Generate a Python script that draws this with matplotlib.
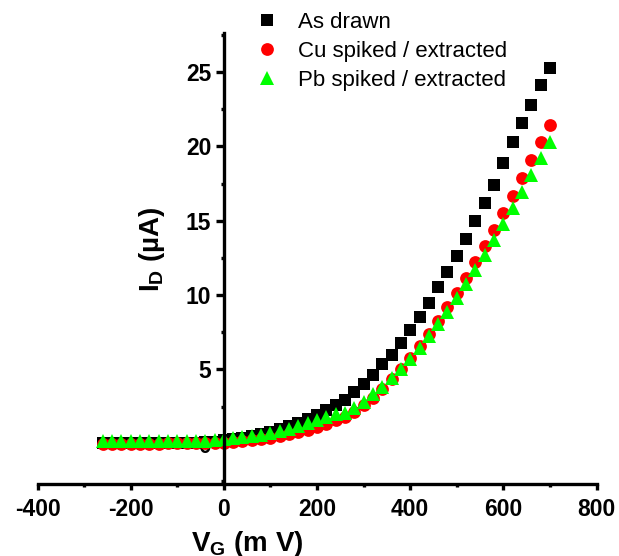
import matplotlib
matplotlib.use('Agg')
import matplotlib.pyplot as plt
from matplotlib.ticker import MultipleLocator

plt.rcParams['font.family'] = ['Liberation Sans', 'DejaVu Sans']
plt.rcParams['mathtext.fontset'] = 'custom'
plt.rcParams['mathtext.rm'] = 'Liberation Sans'
plt.rcParams['mathtext.bf'] = 'Liberation Sans:bold'
plt.rcParams['axes.unicode_minus'] = False

# gate voltage sweep (mV)
vg = list(range(-260, 720, 20))

as_drawn = [0.04, 0.04, 0.04, 0.05, 0.05, 0.05, 0.05, 0.06, 0.06, 0.07, 0.08, 0.10, 0.15,
            0.25, 0.32, 0.42, 0.53, 0.66, 0.82, 1.00, 1.20, 1.42, 1.67, 1.95, 2.25, 2.58,
            2.94, 3.48, 4.04, 4.66, 5.34, 6.00, 6.79, 7.64, 8.54, 9.48, 10.55, 11.56,
            12.65, 13.80, 15.00, 16.20, 17.40, 18.90, 20.30, 21.60, 22.80, 24.10, 25.30]

cu_spiked = [0.02, 0.02, 0.02, 0.02, 0.02, 0.02, 0.02, 0.03, 0.03, 0.04, 0.04, 0.05, 0.06,
             0.08, 0.12, 0.17, 0.23, 0.30, 0.39, 0.50, 0.63, 0.78, 0.96, 1.15, 1.36, 1.58,
             1.82, 2.15, 2.58, 3.10, 3.70, 4.33, 5.00, 5.78, 6.61, 7.42, 8.29, 9.18,
             10.15, 11.17, 12.20, 13.30, 14.35, 15.50, 16.70, 17.90, 19.10, 20.30, 21.44]

pb_spiked = [0.16, 0.16, 0.16, 0.17, 0.17, 0.17, 0.17, 0.18, 0.18, 0.19, 0.20, 0.22, 0.25,
             0.30, 0.36, 0.43, 0.52, 0.62, 0.74, 0.88, 1.03, 1.20, 1.39, 1.58, 1.78, 1.98,
             2.10, 2.42, 2.80, 3.32, 3.84, 4.42, 5.05, 5.72, 6.46, 7.23, 8.07, 8.90,
             9.80, 10.75, 11.70, 12.70, 13.70, 14.80, 15.85, 16.97, 18.10, 19.20, 20.30]

fig = plt.figure(figsize=(6.19, 5.56), dpi=100)
ax = fig.add_axes([0.0606, 0.1295, 0.9031, 0.8117])

ax.plot(vg, as_drawn, 's', color='black', ms=8.6, mew=0, label='As drawn')
ax.plot(vg, cu_spiked, 'o', color='#ff0000', ms=9.2, mew=0, label='Cu spiked / extracted')
ax.plot(vg, pb_spiked, '^', color='#00ff00', ms=9.8, mew=0, label='Pb spiked / extracted')

ax.set_xlim(-400, 800)
ax.set_ylim(-2.7, 27.65)

# y axis crosses at V_G = 0
ax.spines['left'].set_position(('data', 0))
ax.spines['right'].set_visible(False)
ax.spines['top'].set_visible(False)
for s in ['left', 'bottom']:
    ax.spines[s].set_linewidth(2.4)

ax.xaxis.set_major_locator(MultipleLocator(200))
ax.xaxis.set_minor_locator(MultipleLocator(100))
ax.yaxis.set_major_locator(MultipleLocator(5))
ax.yaxis.set_minor_locator(MultipleLocator(2.5))
ax.tick_params(which='major', width=2.4, direction='out', labelsize=16.5)
ax.tick_params(axis='x', which='major', length=4, pad=6)
ax.tick_params(axis='y', which='major', length=6, pad=3)
ax.tick_params(which='minor', width=2.4, length=2.5)
for lab in ax.get_xticklabels() + ax.get_yticklabels():
    lab.set_fontweight('bold')

ax.set_xlabel(r'V$_{\mathbf{G}}$ (m V)', fontsize=20, fontweight='bold')
ax.xaxis.set_label_coords(0.375, -0.1)
ax.set_ylabel(r'I$_{\mathbf{D}}$ (µA)', fontsize=20, fontweight='bold')
ax.yaxis.set_label_coords(0.232, 0.52)

ax.legend(loc='upper left', bbox_to_anchor=(0.4023, 0.978), bbox_transform=fig.transFigure,
          frameon=False, borderpad=0, borderaxespad=0, labelspacing=0.36,
          fontsize=16, handlelength=1.6, handletextpad=0.6)

fig.savefig('out.png', dpi=100)
